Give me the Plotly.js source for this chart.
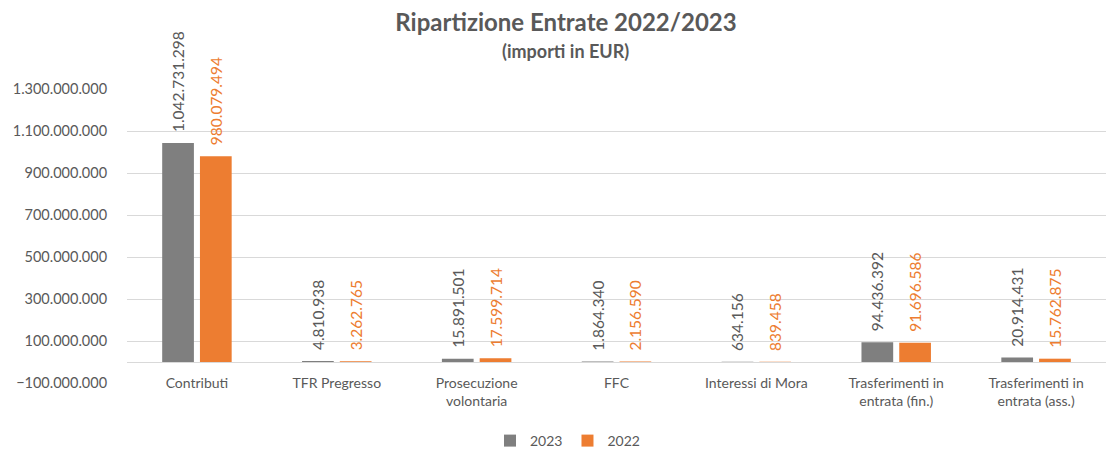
<!DOCTYPE html>
<html>
<head>
<meta charset="utf-8">
<script src="https://cdn.plot.ly/plotly-3.0.1.min.js"></script>
<style>html,body{margin:0;padding:0;background:#fff;}#chart{width:1106px;height:450px;}</style>
</head>
<body>
<div id="chart"></div>
<script>
var categories = ['Contributi', 'TFR Pregresso', 'Prosecuzione<br>volontaria', 'FFC', 'Interessi di Mora', 'Trasferimenti in<br>entrata (fin.)', 'Trasferimenti in<br>entrata (ass.)'];
var values2023 = [1042731298, 4810938, 15891501, 1864340, 634156, 94436392, 20914431];
var values2022 = [980079494, 3262765, 17599714, 2156590, 839458, 91696586, 15762875];
var seriesNames = ['2023', '2022'];

function fmt(v) {
  return '\u00A0\u00A0' + String(v).replace(/\B(?=(\d{3})+(?!\d))/g, '.');
}

var FONT = 'Lato, "Liberation Sans", sans-serif';
var GRAY = '#7F7F7F', ORANGE = '#ED7D31', TXT = '#595959';

var traces = [
  {
    type: 'bar', name: seriesNames[0], x: categories, y: values2023,
    marker: {color: GRAY},
    text: values2023.map(fmt), textposition: 'outside', textangle: -90,
    textfont: {family: FONT, size: 15.5, color: TXT},
    constraintext: 'none', cliponaxis: false, hoverinfo: 'none'
  },
  {
    type: 'bar', name: seriesNames[1], x: categories, y: values2022,
    marker: {color: ORANGE},
    text: values2022.map(fmt), textposition: 'outside', textangle: -90,
    textfont: {family: FONT, size: 15.5, color: ORANGE},
    constraintext: 'none', cliponaxis: false, hoverinfo: 'none'
  }
];

var layout = {
  width: 1106, height: 450,
  margin: {l: 127, r: 0, t: 89, b: 67, autoexpand: false},
  paper_bgcolor: '#ffffff', plot_bgcolor: '#ffffff',
  separators: ',.',
  font: {family: FONT, size: 14, color: TXT},
  barmode: 'group', bargap: 0.46, bargroupgap: 0.16,
  title: {
    text: '<b>Ripartizione Entrate 2022/2023</b>',
    font: {family: FONT, size: 24, color: TXT},
    xref: 'container', x: 566/1106, xanchor: 'center',
    yref: 'container', y: 1 - 23/450, yanchor: 'middle'
  },
  annotations: [{
    text: '<b>(importi in EUR)</b>', showarrow: false,
    xref: 'paper', yref: 'paper',
    x: (565-127)/979, xanchor: 'center',
    y: 1 + (89-51)/294, yanchor: 'middle',
    font: {family: FONT, size: 18, color: TXT}
  }],
  xaxis: {
    type: 'category', anchor: 'free', position: 1/14, automargin: false,
    showline: false, showgrid: false,
    ticks: 'outside', ticklen: 8, tickcolor: 'rgba(0,0,0,0)',
    tickfont: {family: FONT, size: 14, color: TXT},
    fixedrange: true
  },
  yaxis: {
    range: [-100000000, 1300000000], automargin: false,
    tick0: -100000000, dtick: 200000000, tickformat: ',d',
    showgrid: true, gridcolor: '#D9D9D9', gridwidth: 1,
    zeroline: true, zerolinecolor: '#D9D9D9', zerolinewidth: 1,
    ticks: 'outside', ticklen: 16, tickcolor: 'rgba(0,0,0,0)',
    tickfont: {family: FONT, size: 14.5, color: TXT},
    showline: false, fixedrange: true
  },
  legend: {
    orientation: 'h', xanchor: 'left', x: (490-127)/979,
    yanchor: 'middle', y: -(441-383)/294,
    font: {family: FONT, size: 14, color: TXT},
    traceorder: 'normal'
  },
  showlegend: true
};

Plotly.newPlot('chart', traces, layout, {displayModeBar: false, staticPlot: true});
</script>
</body>
</html>
